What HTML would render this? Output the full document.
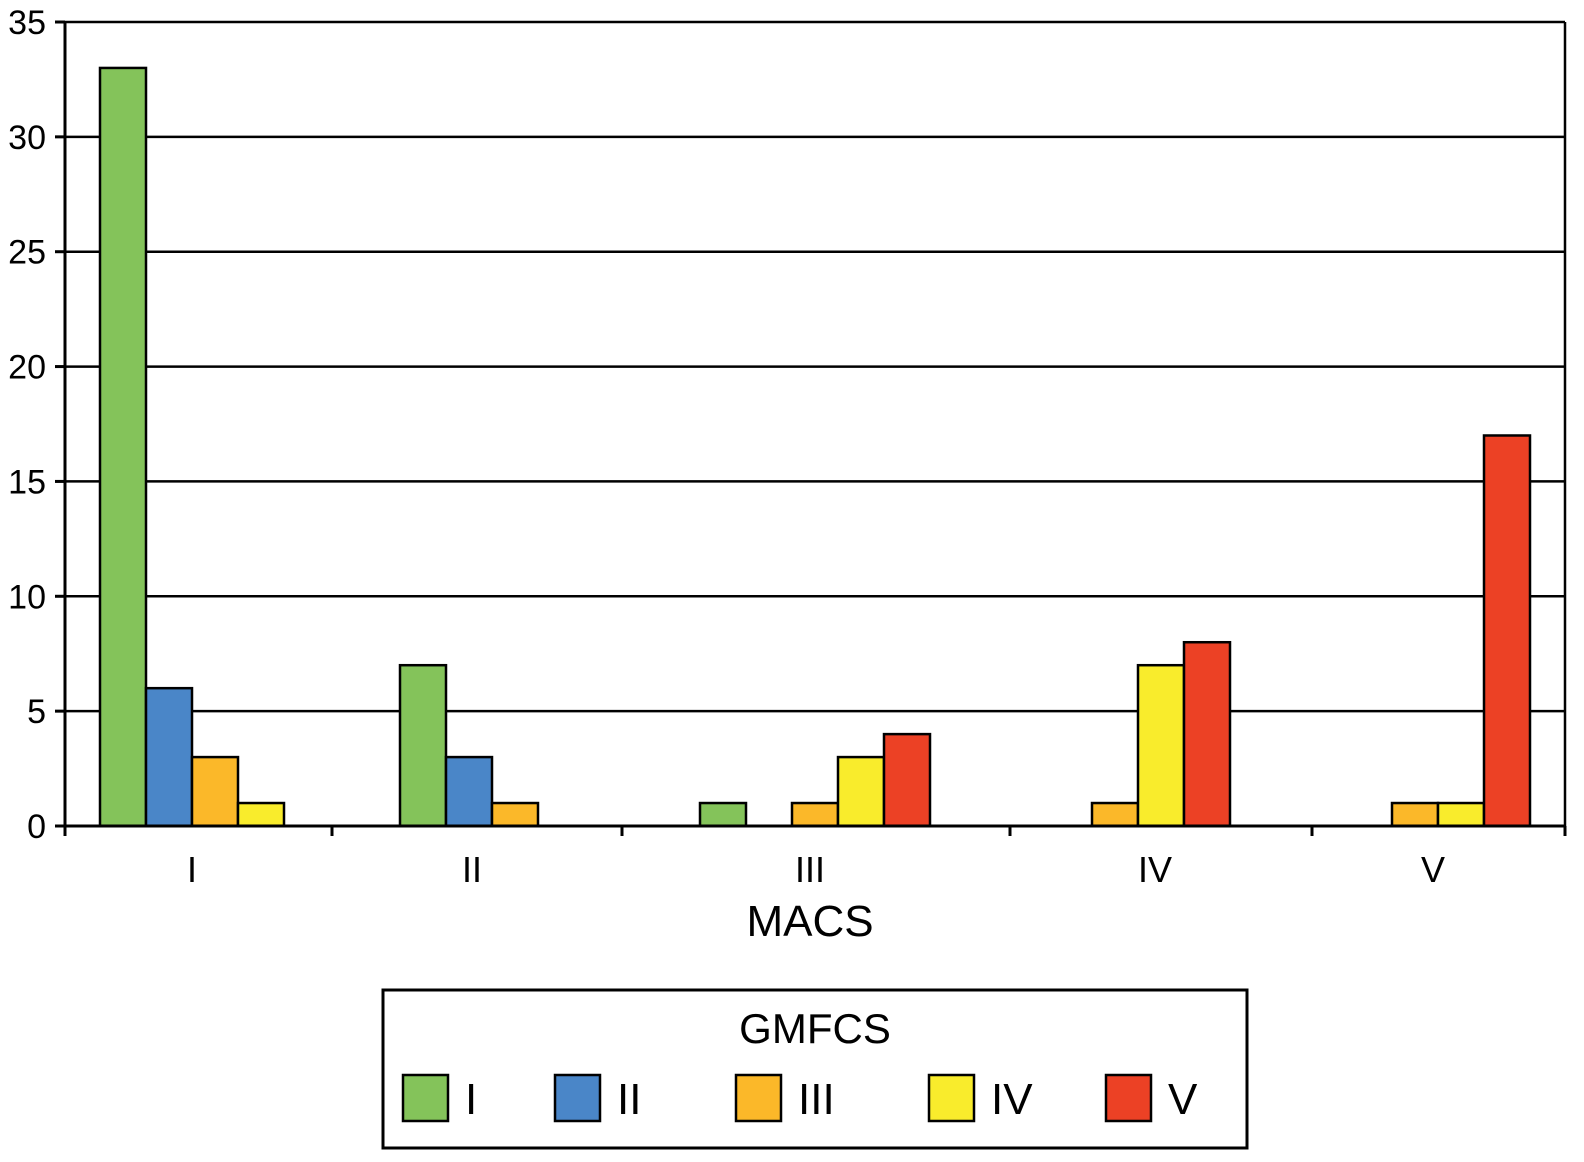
<!DOCTYPE html>
<html><head><meta charset="utf-8"><style>
html,body{margin:0;padding:0;background:#fff;}
svg{display:block;font-family:"Liberation Sans",Arial,sans-serif;}
</style></head><body>
<svg id="chart" width="1584" height="1162" viewBox="0 0 1584 1162">
  <g id="grid"></g>
  <g id="bars"></g>
  <g id="axes">
    <line x1="65" y1="22" x2="1565" y2="22" stroke="#000" stroke-width="2.5"/>
    <line x1="1565" y1="22" x2="1565" y2="826" stroke="#000" stroke-width="2.5"/>
    <line x1="65" y1="22" x2="65" y2="834" stroke="#000" stroke-width="3"/>
    <line x1="65" y1="826" x2="1565" y2="826" stroke="#000" stroke-width="3"/>
    <g stroke="#000" stroke-width="3">
      <line x1="65" y1="826" x2="65" y2="836"/><line x1="332" y1="826" x2="332" y2="836"/>
      <line x1="622" y1="826" x2="622" y2="836"/><line x1="1010" y1="826" x2="1010" y2="836"/>
      <line x1="1312" y1="826" x2="1312" y2="836"/><line x1="1565" y1="826" x2="1565" y2="836"/>
    </g>
    <g font-size="36" text-anchor="middle">
      <text x="192" y="882">I</text><text x="472" y="882">II</text><text x="810" y="882">III</text>
      <text x="1155" y="882">IV</text><text x="1433" y="882">V</text>
    </g>
    <text x="810" y="936" font-size="44" text-anchor="middle">MACS</text>
  </g>
  <g>
    <rect x="383" y="990" width="864" height="158" fill="#fff" stroke="#000" stroke-width="3"/>
    <text x="815" y="1043" font-size="42" text-anchor="middle">GMFCS</text>
    <g id="legend-items"></g>
  </g>
</svg>
<script>
const categories = ["I","II","III","IV","V"];
const seriesNames = ["I","II","III","IV","V"];
const seriesColors = ["#84c35a","#4a86c8","#fbb829","#f9ec2c","#ec4125"];
const gmfcsI   = [33, 7, 1, 0, 0];
const gmfcsII  = [6, 3, 0, 0, 0];
const gmfcsIII = [3, 1, 1, 1, 1];
const gmfcsIV  = [1, 0, 3, 7, 1];
const gmfcsV   = [0, 0, 4, 8, 17];
const yTicks = [0,5,10,15,20,25,30,35];

const series = [gmfcsI, gmfcsII, gmfcsIII, gmfcsIV, gmfcsV];
const NS = "http://www.w3.org/2000/svg";
function y(v){ return 826 - v * (804/35); }
function x(ci, si){ return 100 + ci*300 + si*46; }
const grid = document.getElementById("grid");
yTicks.forEach(t=>{
  const yy = y(t);
  if (t>0 && t<35){
    const l=document.createElementNS(NS,"line");
    
    
    l.setAttribute("x1",65);l.setAttribute("x2",1565);l.setAttribute("y1",yy);l.setAttribute("y2",yy);
    l.setAttribute("stroke","#000");l.setAttribute("stroke-width","2.5");
    grid.appendChild(l);
  }
  const tk=document.createElementNS(NS,"line");
  
  
  tk.setAttribute("x1",55);tk.setAttribute("x2",65);tk.setAttribute("y1",yy);tk.setAttribute("y2",yy);
  tk.setAttribute("stroke","#000");tk.setAttribute("stroke-width","3");
  grid.appendChild(tk);
  const tx=document.createElementNS(NS,"text");
  
  
  tx.setAttribute("x",46);tx.setAttribute("y",yy+12);tx.setAttribute("font-size","34");tx.setAttribute("text-anchor","end");
  tx.textContent=t;
  grid.appendChild(tx);
});
const bars=document.getElementById("bars");
series.forEach((arr,si)=>{
  arr.forEach((v,ci)=>{
    if(!v) return;
    const r=document.createElementNS(NS,"rect");
    
    
    r.setAttribute("x",x(ci,si));r.setAttribute("y",y(v));
    r.setAttribute("width",46);r.setAttribute("height",y(0)-y(v));
    r.setAttribute("fill",seriesColors[si]);r.setAttribute("stroke","#000");r.setAttribute("stroke-width","2.5");
    bars.appendChild(r);
  });
});
const legendX=[403,555,736,929,1106];
const li=document.getElementById("legend-items");
seriesNames.forEach((n,i)=>{
  const r=document.createElementNS(NS,"rect");
  
  
  r.setAttribute("x",legendX[i]);r.setAttribute("y",1075);r.setAttribute("width",45);r.setAttribute("height",46);
  r.setAttribute("fill",seriesColors[i]);r.setAttribute("stroke","#000");r.setAttribute("stroke-width","2.5");
  li.appendChild(r);
  const t=document.createElementNS(NS,"text");
  
  
  t.setAttribute("x",legendX[i]+62);t.setAttribute("y",1114);t.setAttribute("font-size","44");
  t.textContent=n;
  li.appendChild(t);
});
</script>
</body></html>
